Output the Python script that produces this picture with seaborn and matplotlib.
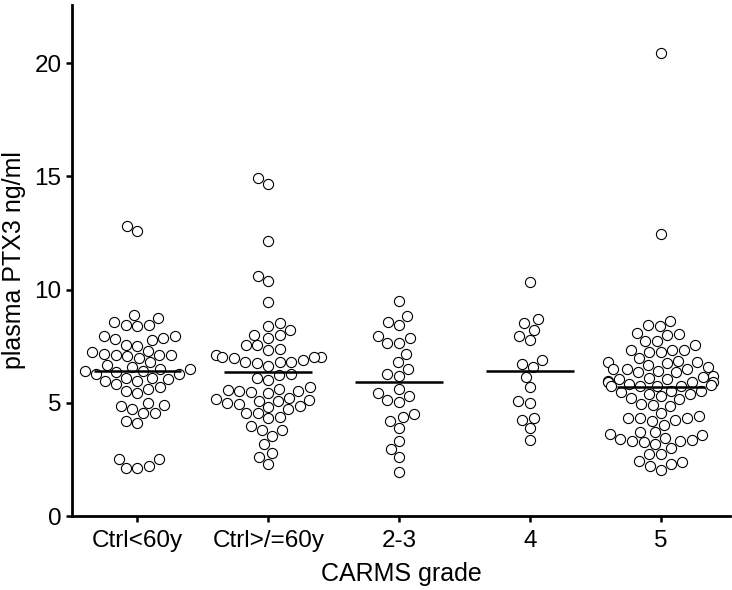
import pandas as pd
import numpy as np
import matplotlib
matplotlib.use('Agg')
import matplotlib.pyplot as plt
import seaborn as sns

# valores
grupos = ['Ctrl<60y', 'Ctrl>/=60y', '2-3', '4', '5']

ctrl_lt60 = [12.57, 12.79, 8.87, 8.57, 8.43, 8.40, 8.43, 8.75, 7.87, 7.75, 7.94, 7.94,
             7.81, 7.57, 7.49, 7.16, 7.06, 7.13, 7.28, 7.10, 7.22, 7.10, 6.96, 6.78,
             6.66, 6.47, 6.37, 6.25, 6.40, 6.40, 6.47, 6.57, 6.28, 6.04, 5.96, 6.10,
             5.96, 6.10, 5.69, 5.51, 5.44, 5.63, 5.81, 4.90, 4.57, 4.71, 4.87, 4.54,
             4.99, 4.19, 4.10, 2.50, 2.21, 2.10, 2.10, 2.50]
ctrl_ge60 = [14.68, 14.92, 12.13, 10.37, 10.60, 9.45, 8.37, 8.51, 7.98, 8.01, 8.22, 7.87,
             7.57, 7.54, 7.37, 7.34, 7.10, 7.04, 6.96, 6.87, 7.01, 7.01, 6.81, 6.75,
             6.63, 6.78, 6.78, 6.25, 6.10, 6.22, 5.99, 5.54, 5.51, 5.63, 5.57, 5.69,
             5.48, 5.43, 5.10, 4.95, 5.13, 5.22, 4.98, 5.10, 5.16, 4.84, 4.81, 4.72,
             4.57, 4.57, 4.37, 4.31, 3.96, 3.54, 3.81, 3.81, 3.16, 2.78, 2.60, 2.31]
grado_23 = [9.51, 8.81, 8.57, 8.43, 7.95, 7.66, 7.87, 7.66, 7.16, 6.78, 6.28, 6.19, 6.51,
            5.60, 5.31, 5.04, 5.13, 5.43, 4.37, 4.19, 4.49, 3.90, 3.31, 2.96, 2.60, 1.95]
grado_4 = [10.32, 8.69, 8.51, 8.22, 7.95, 7.75, 6.87, 6.57, 6.72, 6.16, 5.69, 5.01, 5.10,
           4.34, 4.25, 3.87, 3.37]
grado_5 = [20.44, 12.43, 8.63, 8.43, 8.37, 8.04, 8.07, 7.98, 7.72, 7.72, 7.54, 7.34,
           7.25, 7.25, 7.31, 7.31, 6.98, 6.66, 6.81, 6.78, 6.84, 6.75, 6.57, 6.51,
           6.48, 6.40, 6.51, 6.34, 6.34, 6.19, 6.07, 6.13, 6.10, 6.04, 5.96, 5.90,
           5.92, 5.84, 5.92, 5.75, 5.78, 5.75, 5.72, 5.72, 5.48, 5.37, 5.51, 5.51,
           5.40, 5.22, 5.28, 5.16, 4.95, 4.87, 4.90, 4.54, 4.31, 4.34, 4.19, 4.40,
           4.22, 4.31, 4.04, 3.72, 3.57, 3.72, 3.45, 3.63, 3.31, 3.19, 3.31, 3.40,
           3.34, 3.25, 3.01, 2.75, 2.75, 2.43, 2.28, 2.22, 2.37, 2.02]

# lineas horizontales (media) por grupo
medias = [6.42, 6.37, 5.90, 6.41, 5.69]

valores = [ctrl_lt60, ctrl_ge60, grado_23, grado_4, grado_5]
df = pd.DataFrame({
    'grupo': np.repeat(grupos, [len(v) for v in valores]),
    'PTX3': np.concatenate(valores),
})

sns.set_style('ticks')
plt.rcParams['font.family'] = ['Liberation Sans', 'DejaVu Sans']
plt.rcParams['text.color'] = 'black'
plt.rcParams['axes.labelcolor'] = 'black'
plt.rcParams['xtick.color'] = 'black'
plt.rcParams['ytick.color'] = 'black'

fig = plt.figure(figsize=(7.32, 5.90), dpi=100)
ax = fig.add_axes([0.0984, 0.1254, 0.899, 0.866])

sns.swarmplot(data=df, x='grupo', y='PTX3', order=grupos, ax=ax,
              color='white', edgecolor='black', linewidth=0.8, size=7.3, warn_thresh=1)

x = np.arange(len(grupos))
ax.hlines(medias, x - 0.335, x + 0.335, color='black', linewidth=1.8, zorder=5)

ax.set_xlim(-0.5, 4.53)
ax.set_ylim(0, 22.56)
ax.set_yticks([0, 5, 10, 15, 20])
ax.set_xlabel('CARMS grade', fontsize=18, labelpad=7)
ax.set_ylabel('plasma PTX3 ng/ml', fontsize=18, labelpad=6)
ax.tick_params(axis='both', labelsize=17.5, width=1.8, length=4)
ax.tick_params(axis='x', pad=6)
for lado in ['left', 'bottom']:
    ax.spines[lado].set_linewidth(2.0)
    ax.spines[lado].set_color('black')
sns.despine(ax=ax)

fig.savefig('out.png', dpi=100)
